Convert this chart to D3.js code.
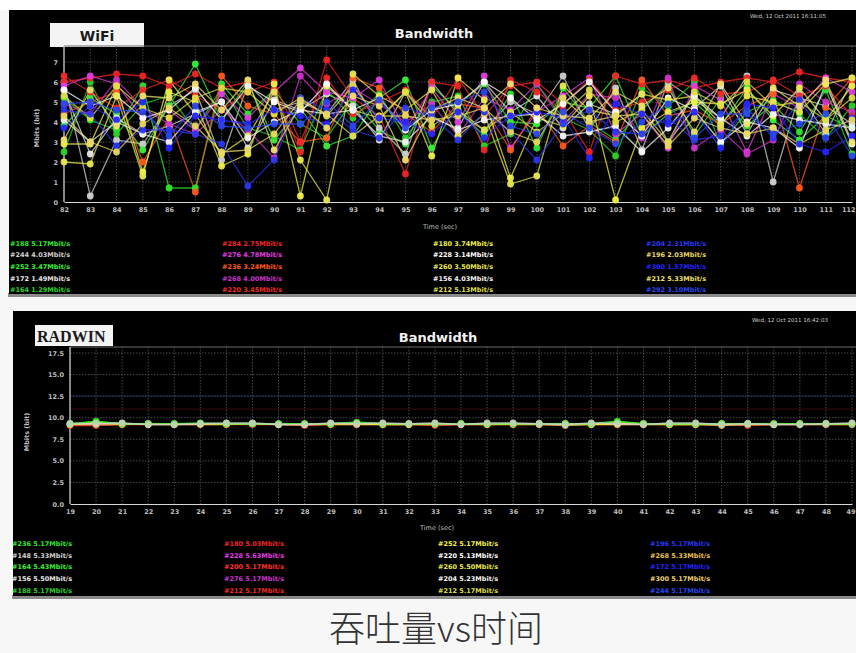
<!DOCTYPE html>
<html><head><meta charset="utf-8">
<script src="https://cdn.jsdelivr.net/npm/d3@7"></script>
<style>
html,body{margin:0;padding:0;background:#fff;}
svg{display:block;}
</style></head><body>
<svg id="c" width="856" height="653"></svg>
<script>
// ---------- WiFi panel data ----------
const wifiTimes = [82,83,84,85,86,87,88,89,90,91,92,93,94,95,96,97,98,99,100,101,102,103,104,105,106,107,108,109,110,111,112];
const wifiYTicks = [0,1,2,3,4,5,6,7];
const wifiLegend = [
  "#188 5.17Mbit/s","#244 4.03Mbit/s","#252 3.47Mbit/s","#172 1.49Mbit/s","#164 1.29Mbit/s",
  "#284 2.75Mbit/s","#276 4.78Mbit/s","#236 3.24Mbit/s","#268 4.00Mbit/s","#220 3.45Mbit/s",
  "#180 3.74Mbit/s","#228 3.14Mbit/s","#260 3.50Mbit/s","#156 4.03Mbit/s","#212 5.13Mbit/s",
  "#204 2.31Mbit/s","#196 2.03Mbit/s","#300 1.57Mbit/s","#212 5.33Mbit/s","#292 3.10Mbit/s"];
const wifiColors = [
  "#2ee82e","#d0d0d0","#39f039","#e6e6e6","#28d428",
  "#f02424","#e23ce2","#ff5a1e","#cc33cc","#f02a2a",
  "#f0f04a","#ffffff","#e8e850","#f4f4f4","#dede44",
  "#2a36f0","#e8d860","#2424ff","#eee070","#2a46ee"];
const wifiValues = [
  [5.2,4.1,3.6,5.8,0.7,0.7,5.9,4.4,5.6,3.9,3.2,5.1,3.6,2.9,5.8,4.6,3.3,5.4,2.7,5.7,4.0,3.1,4.6,5.9,3.3,5.2,3.8,4.9,3.5,5.6,2.4],
  [6.0,0.3,3.1,2.9,4.8,5.6,2.1,5.9,4.6,5.0,4.4,6.1,3.7,2.4,6.0,4.4,3.6,5.0,4.4,6.3,3.6,5.7,2.6,6.0,5.1,4.2,6.3,1.0,5.4,3.4,6.1],
  [3.8,5.2,4.4,2.6,4.8,6.9,4.1,6.0,3.1,4.7,2.8,3.3,5.2,6.1,2.7,4.9,5.9,4.0,3.9,5.0,4.7,6.3,3.3,4.4,5.0,3.8,5.7,4.1,3.1,4.3,3.7],
  [5.6,2.4,4.2,3.4,3.8,4.4,5.0,2.7,5.1,4.6,5.4,4.8,3.1,5.5,4.2,3.7,6.0,4.5,5.3,3.7,4.9,4.4,5.4,3.0,4.7,5.8,3.4,5.6,5.2,4.8,3.9],
  [2.5,6.0,3.4,4.9,5.3,3.6,5.7,3.7,3.3,2.6,5.6,4.2,5.4,3.2,5.0,5.3,2.8,3.4,5.9,4.2,3.6,2.3,5.7,4.8,6.0,2.9,4.5,5.1,4.4,3.2,4.8],
  [6.0,6.2,6.4,6.3,5.8,6.4,5.7,6.0,5.6,2.5,7.1,5.2,4.3,1.4,6.0,5.8,2.6,6.1,5.5,4.6,2.5,6.3,5.9,6.1,5.7,6.0,6.2,6.0,6.5,6.2,6.0],
  [5.8,6.3,5.9,4.2,4.6,3.6,5.4,4.2,5.5,6.7,5.5,5.2,6.1,3.6,5.7,4.0,6.3,2.7,4.5,5.3,6.2,3.4,4.4,2.7,5.8,5.1,2.5,5.4,4.7,6.2,5.5],
  [4.4,5.0,5.5,2.0,4.2,0.5,6.3,4.8,4.4,3.0,3.2,6.2,5.7,4.4,3.5,4.9,4.7,2.6,4.7,2.8,3.8,3.0,6.1,4.3,4.6,3.9,4.8,5.4,0.7,4.7,6.2],
  [4.9,4.4,6.1,4.7,3.9,3.4,4.6,3.6,2.2,6.3,4.9,5.7,4.9,4.0,4.9,3.3,5.2,4.6,5.9,4.0,5.4,5.2,3.2,6.2,2.7,3.6,2.4,3.1,5.9,5.0,4.5],
  [6.3,5.5,4.7,5.6,6.1,5.3,4.6,5.5,6.0,3.0,6.2,4.4,5.0,5.6,4.2,6.2,4.3,5.8,6.0,4.9,6.1,4.6,5.0,5.6,6.2,5.4,5.5,6.1,5.3,5.8,4.3],
  [2.9,2.9,5.8,1.5,5.5,5.0,1.8,2.4,5.9,0.3,5.8,4.6,4.2,5.5,2.3,6.2,5.1,1.2,4.2,3.8,5.3,0.1,3.7,4.5,5.0,4.9,5.6,4.3,5.7,4.1,5.8],
  [5.6,4.8,5.3,4.2,4.6,5.7,4.1,5.8,5.0,4.5,5.9,4.6,5.2,3.6,4.6,4.9,6.0,5.2,4.1,4.9,6.0,4.5,3.3,5.2,4.6,3.0,4.0,3.7,2.7,5.9,2.9],
  [2.0,1.9,5.3,1.3,6.1,4.4,2.4,3.3,5.5,2.1,0.1,6.4,5.3,4.6,5.6,3.3,4.4,0.9,1.3,5.8,4.6,4.3,5.4,5.1,5.3,3.9,5.3,5.0,4.5,5.9,6.2],
  [4.1,3.0,4.0,3.4,3.0,4.5,5.0,3.2,4.0,4.6,4.4,4.6,3.3,3.0,4.3,3.6,4.1,4.3,4.4,3.3,3.5,3.8,2.5,3.7,5.3,4.2,3.3,4.4,4.1,3.9,3.7],
  [5.3,4.2,5.8,4.7,4.2,5.2,5.7,5.5,4.4,5.2,4.3,5.8,4.1,5.5,3.8,4.6,3.6,4.5,3.5,4.4,5.6,4.0,4.6,3.0,5.5,4.8,6.0,4.8,5.0,4.1,5.2],
  [4.6,4.4,2.8,3.6,3.6,3.4,2.9,0.8,2.1,5.2,4.6,3.6,3.2,4.7,4.3,3.1,4.5,3.5,2.1,3.9,4.6,3.5,3.4,4.2,3.1,3.3,4.7,3.2,5.1,3.2,4.2],
  [4.3,3.0,2.5,3.9,4.7,3.8,2.5,2.6,3.4,5.1,4.4,3.3,4.3,4.3,4.1,4.3,4.7,3.5,3.0,5.2,4.0,4.3,4.4,2.8,4.2,3.7,3.4,3.7,2.9,3.6,4.1],
  [3.7,4.8,4.1,5.0,2.7,4.3,4.1,3.9,4.6,4.3,3.9,5.6,4.2,4.0,3.4,4.5,3.2,4.3,4.5,4.2,2.2,4.9,4.4,3.9,4.5,2.7,4.9,4.7,2.9,2.5,3.3],
  [3.1,5.6,3.8,5.3,5.2,5.9,4.6,6.1,2.6,4.8,3.7,5.3,4.8,2.1,4.6,5.2,4.7,5.9,4.7,4.3,4.2,5.5,4.8,5.7,3.5,5.9,3.9,5.7,4.8,6.1,3.0],
  [4.9,5.0,4.6,4.5,3.3,4.8,3.8,3.7,3.9,3.9,5.0,3.8,5.1,3.7,4.7,5.0,5.5,3.8,3.4,4.5,3.7,2.9,4.0,4.9,3.2,4.4,4.4,3.4,3.9,4.4,2.3]];

// ---------- RADWIN panel data ----------
const radwinTimes = [19,20,21,22,23,24,25,26,27,28,29,30,31,32,33,34,35,36,37,38,39,40,41,42,43,44,45,46,47,48,49];
const radwinYTicks = [0,2.5,5,7.5,10,12.5,15,17.5];
const radwinLegend = [
  "#236 5.17Mbit/s","#148 5.33Mbit/s","#164 5.43Mbit/s","#156 5.50Mbit/s","#188 5.17Mbit/s",
  "#180 5.03Mbit/s","#228 5.63Mbit/s","#200 5.17Mbit/s","#276 5.17Mbit/s","#212 5.17Mbit/s",
  "#252 5.17Mbit/s","#220 5.13Mbit/s","#260 5.50Mbit/s","#204 5.23Mbit/s","#212 5.17Mbit/s",
  "#196 5.17Mbit/s","#268 5.33Mbit/s","#172 5.17Mbit/s","#300 5.17Mbit/s","#244 5.17Mbit/s"];
const radwinColors = [
  "#2ee82e","#d0d0d0","#39f039","#e6e6e6","#28d428",
  "#f02424","#e23ce2","#ff3030","#cc33cc","#f02a2a",
  "#f0f04a","#ffffff","#e8e850","#f4f4f4","#dede44",
  "#2a36f0","#e8c050","#2424ff","#eed070","#2a46ee"];
const radwinPlotted = [7,16,10,12,0,1];
const radwinValues = [
  [9.1,9.1,9.2,9.2,9.2,9.2,9.2,9.2,9.2,9.1,9.2,9.2,9.2,9.2,9.1,9.2,9.2,9.2,9.2,9.2,9.2,9.2,9.2,9.2,9.2,9.2,9.1,9.2,9.2,9.2,9.2],
  [9.2,9.2,9.2,9.3,9.2,9.2,9.2,9.3,9.2,9.2,9.2,9.2,9.2,9.2,9.2,9.2,9.2,9.2,9.2,9.1,9.2,9.2,9.2,9.2,9.2,9.1,9.2,9.2,9.2,9.2,9.2],
  [9.2,9.4,9.3,9.2,9.2,9.3,9.3,9.3,9.2,9.2,9.3,9.3,9.2,9.2,9.3,9.3,9.2,9.3,9.3,9.3,9.2,9.3,9.3,9.2,9.2,9.3,9.3,9.2,9.3,9.3,9.3],
  [9.3,9.5,9.3,9.3,9.3,9.3,9.3,9.3,9.3,9.3,9.3,9.4,9.3,9.3,9.3,9.3,9.3,9.3,9.3,9.3,9.3,9.5,9.3,9.3,9.3,9.3,9.3,9.3,9.3,9.3,9.3],
  [9.3,9.6,9.3,9.3,9.3,9.4,9.3,9.3,9.3,9.3,9.3,9.5,9.3,9.3,9.3,9.3,9.3,9.3,9.3,9.3,9.3,9.6,9.3,9.3,9.3,9.3,9.3,9.3,9.3,9.3,9.3],
  [9.3,9.3,9.4,9.2,9.2,9.3,9.4,9.4,9.2,9.2,9.4,9.3,9.4,9.3,9.4,9.2,9.4,9.4,9.3,9.2,9.4,9.3,9.2,9.4,9.4,9.2,9.3,9.2,9.2,9.3,9.4]];

const caption = "吞吐量vs时间";

const svg = d3.select("#c");
svg.append("rect").attr("x",0).attr("y",0).attr("width",856).attr("height",653).attr("fill","#f7f7f7");
svg.append("rect").attr("x",0).attr("y",0).attr("width",856).attr("height",10).attr("fill","#ffffff");

const SANS = "'DejaVu Sans', Verdana, sans-serif";

function panel(o){
  const g = svg.append("g");
  g.append("rect").attr("x",o.px-1).attr("y",o.py+o.ph-1).attr("width",o.pw+1).attr("height",4).attr("fill","#8a8a8a");
  g.append("rect").attr("x",o.px).attr("y",o.py).attr("width",o.pw).attr("height",o.ph).attr("fill","#000");
  const clipId = "clip"+o.id;
  svg.append("clipPath").attr("id",clipId).append("rect")
    .attr("x",o.px).attr("y",o.py).attr("width",o.pw).attr("height",o.ph);
  const c = g.append("g").attr("clip-path","url(#"+clipId+")");

  c.append("rect").attr("x",o.box[0]).attr("y",o.box[1]).attr("width",o.box[2]).attr("height",o.box[3]).attr("fill","#f4f4f4");
  c.append("text").attr("x",o.boxText[0]).attr("y",o.boxText[1]).attr("text-anchor",o.boxText[2])
    .attr("font-family",o.boxFont).attr("font-weight","bold").attr("font-size",o.boxSize).attr("fill","#1a1a1a").text(o.name);
  c.append("text").attr("x",o.title[0]).attr("y",o.title[1]).attr("text-anchor","middle")
    .attr("font-family",SANS).attr("font-weight","bold").attr("font-size",13).attr("fill","#f2f2f2").text("Bandwidth");
  c.append("text").attr("x",o.date[0]).attr("y",o.date[1]).attr("font-family",SANS).attr("font-size",5.5)
    .attr("fill","#cfcfcf").text(o.dateText);

  const x = d3.scaleLinear().domain([o.times[0], o.times[o.times.length-1]]).range(o.xRange);
  const y = d3.scaleLinear().domain([o.yTicks[0], o.yTicks[o.yTicks.length-1]]).range(o.yRange);
  const top = o.plotTop, bottom = y(0);

  const grid = c.append("g");
  grid.selectAll("line.v").data(o.times).join("line")
    .attr("x1",d=>x(d)).attr("x2",d=>x(d)).attr("y1",top).attr("y2",bottom)
    .attr("stroke","#5a5a5a").attr("stroke-width",0.8).attr("stroke-dasharray","1.5,1.5");
  grid.selectAll("line.h").data(o.yTicks.slice(1)).join("line")
    .attr("x1",x.range()[0]).attr("x2",o.px+o.pw).attr("y1",d=>y(d)).attr("y2",d=>y(d))
    .attr("stroke","#5a5a5a").attr("stroke-width",0.8).attr("stroke-dasharray","1.5,1.5");
  grid.append("line").attr("x1",x.range()[0]).attr("x2",o.px+o.pw).attr("y1",top).attr("y2",top)
    .attr("stroke","#6a6a6a").attr("stroke-width",1);
  if (o.extraLines) o.extraLines.forEach(l=>{
    grid.append("line").attr("x1",x.range()[0]).attr("x2",o.px+o.pw).attr("y1",y(l[0])).attr("y2",y(l[0]))
      .attr("stroke",l[1]).attr("stroke-width",1).attr("opacity",0.5);
  });

  const xAxis = d3.axisBottom(x).tickValues(o.times).tickSize(0).tickPadding(5).tickFormat(d3.format("d"));
  const ax = c.append("g").attr("transform","translate(0,"+bottom+")").call(xAxis);
  const yAxis = d3.axisLeft(y).tickValues(o.yTicks).tickSize(0).tickPadding(6).tickFormat(o.yFmt);
  const ay = c.append("g").attr("transform","translate("+x.range()[0]+",0)").call(yAxis);
  [ax,ay].forEach(a=>{
    a.select(".domain").attr("stroke","#d8d8d8").attr("stroke-width",1.2);
    a.selectAll("text").attr("fill","#bcbcbc").attr("font-family",SANS).attr("font-size",6.5).attr("font-weight","bold");
  });
  // keep the last x label inside the panel
  ax.selectAll(".tick text").filter(d=>d===o.times[o.times.length-1]).attr("text-anchor","end").attr("dx",3);
  ay.select(".domain").attr("d","M0,"+top+"V"+bottom);

  c.append("text").attr("x",o.timeLabel[0]).attr("y",o.timeLabel[1]).attr("text-anchor","middle")
    .attr("font-family",SANS).attr("font-size",6.5).attr("fill","#bdbdbd").text("Time (sec)");
  c.append("text").attr("transform","translate("+o.yLabel[0]+","+o.yLabel[1]+") rotate(-90)").attr("text-anchor","middle")
    .attr("font-family",SANS).attr("font-size",6.5).attr("font-weight","bold").attr("fill","#bdbdbd").text("Mbits (bit)");

  const line = d3.line().x((d,i)=>x(o.times[i])).y(d=>y(d));
  const sg = c.append("g");
  o.series.forEach(s=>{
    sg.append("path").datum(s.values).attr("d",line).attr("fill","none")
      .attr("stroke",s.color).attr("stroke-width",o.lw).attr("opacity",o.lineOpacity);
  });
  o.series.forEach(s=>{
    sg.selectAll(null).data(s.values).join("circle")
      .attr("cx",(d,i)=>x(o.times[i])).attr("cy",d=>y(d)).attr("r",o.r)
      .attr("fill",s.color).attr("opacity",o.markerOpacity);
  });

  const lg = c.append("g");
  lg.selectAll("text").data(o.legend).join("text")
    .attr("x",(d,i)=>o.legX[Math.floor(i/5)]).attr("y",(d,i)=>o.legY[i%5])
    .attr("font-family",SANS).attr("font-size",6.5).attr("font-weight","bold")
    .attr("fill",(d,i)=>o.colors[i]).text(d=>d);
}

panel({
  id:"wifi", name:"WiFi", px:9, py:10, pw:847, ph:284,
  box:[50,23,94,24], boxText:[97,41,"middle"], boxFont:SANS, boxSize:14,
  title:[434,38], date:[750,18], dateText:"Wed, 12 Oct 2011 16:11:05",
  times:wifiTimes, yTicks:wifiYTicks, yFmt:d3.format("d"),
  xRange:[64,852], yRange:[202,62], plotTop:46,
  timeLabel:[440,229], yLabel:[39,128],
  series: wifiValues.map((v,i)=>({values:v,color:wifiColors[i]})),
  lw:1.3, lineOpacity:0.75, r:3.4, markerOpacity:0.95,
  legend:wifiLegend, colors:wifiColors,
  legX:[10,222,433,646], legY:[246,257,269,281,292]
});

panel({
  id:"radwin", name:"RADWIN", px:13, py:311, pw:843, ph:285,
  box:[35,325,78,21], boxText:[37,342,"start"], boxFont:"'Liberation Serif', 'Times New Roman', serif", boxSize:16,
  title:[438,342], date:[752,322], dateText:"Wed, 12 Oct 2011 16:42:03",
  times:radwinTimes, yTicks:radwinYTicks, yFmt:d3.format(".1f"),
  xRange:[70,852], yRange:[504,353], plotTop:347,
  timeLabel:[437,530], yLabel:[29,432],
  extraLines:[[12.5,"#2a3aa0"],[11.0,"#7a1a1a"]],
  series: radwinValues.map((v,i)=>({values:v,color:radwinColors[radwinPlotted[i]]})),
  lw:1.5, lineOpacity:0.85, r:3.4, markerOpacity:0.8,
  legend:radwinLegend, colors:radwinColors,
  legX:[12,224,438,650], legY:[546,558,569,581,593]
});

svg.append("text").attr("x",436).attr("y",642).attr("text-anchor","middle")
  .attr("font-family","'Noto Sans CJK SC', sans-serif").attr("font-weight",300).attr("font-size",36)
  .attr("fill","#333").text(caption);
</script></body></html>
